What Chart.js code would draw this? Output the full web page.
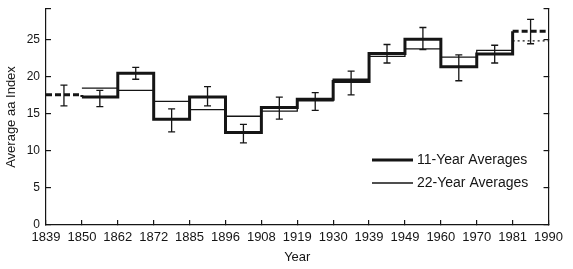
<!DOCTYPE html>
<html>
<head>
<meta charset="utf-8">
<script src="https://cdn.jsdelivr.net/npm/chart.js@4.4.1/dist/chart.umd.min.js"></script>
<style>
html, body { margin: 0; padding: 0; background: #fff; }
</style>
</head>
<body>
<canvas id="chart" width="573" height="269"></canvas>
<script>
// cycle boundaries (x axis is one step per cycle, evenly spaced)
const years = ['1839', '1850', '1862', '1872', '1885', '1896', '1908', '1919', '1930', '1939', '1949', '1960', '1970', '1981', '1990'];
// one value per cycle
const avg11 = [17.6, 17.3, 20.5, 14.3, 17.3, 12.5, 15.9, 17.0, 19.4, 23.2, 25.1, 21.4, 23.1, 26.2];
const avg22 = [null, 18.5, 18.2, 16.7, 15.6, 14.7, 15.4, 16.8, 19.7, 22.8, 23.8, 22.7, 23.6, 24.9];
const errLow = [16.1, 16.0, 19.7, 12.6, 16.1, 11.1, 14.3, 15.5, 17.6, 21.9, 23.7, 19.5, 21.9, 24.5];
const errHigh = [18.9, 18.2, 21.3, 15.7, 18.7, 13.6, 17.3, 17.9, 20.8, 24.4, 26.7, 23.0, 24.3, 27.8];
const yTicks = [0, 5, 10, 15, 20, 25, 29.2];
const legendLabels = ['11-Year Averages', '22-Year Averages'];

const ink = '#151515';
const font = 'Liberation Sans, Arial, Helvetica, sans-serif';

function steps(values) {
	const pts = [];
	values.forEach((v, i) => {
		if (v !== null) pts.push({ x: i, y: v });
	});
	pts.push({ x: values.length, y: values[values.length - 1] });
	return pts;
}

const errorBars = {
	id: 'errorBars',
	afterDatasetsDraw(chart) {
		const { ctx, scales: { x, y } } = chart;
		ctx.save();
		ctx.strokeStyle = ink;
		ctx.lineWidth = 1.3;
		errLow.forEach((lo, i) => {
			const px = x.getPixelForValue(i + 0.5);
			const top = y.getPixelForValue(errHigh[i]);
			const bot = y.getPixelForValue(lo);
			ctx.beginPath();
			ctx.moveTo(px, top); ctx.lineTo(px, bot);
			ctx.moveTo(px - 3.5, top); ctx.lineTo(px + 3.5, top);
			ctx.moveTo(px - 3.5, bot); ctx.lineTo(px + 3.5, bot);
			ctx.stroke();
		});
		ctx.restore();
	}
};

const legendBox = {
	id: 'legendBox',
	afterDraw(chart) {
		const ctx = chart.ctx;
		const rows = [160, 183];
		ctx.save();
		ctx.strokeStyle = ink;
		ctx.fillStyle = ink;
		ctx.font = '14px ' + font;
		ctx.textBaseline = 'middle';
		legendLabels.forEach((label, i) => {
			ctx.lineWidth = i === 0 ? 3 : 1.3;
			ctx.beginPath();
			ctx.moveTo(372, rows[i]);
			ctx.lineTo(413, rows[i]);
			ctx.stroke();
			ctx.fillText(label, 417, rows[i]);
		});
		ctx.restore();
	}
};

new Chart(document.getElementById('chart'), {
	type: 'line',
	data: {
		datasets: [{
			label: legendLabels[0],
			data: steps(avg11),
			stepped: true,
			borderColor: ink,
			borderWidth: 3,
			pointRadius: 0,
			segment: {
				borderDash: ctx => (ctx.p0.parsed.x === 0 || ctx.p0.parsed.x === 13) ? [6, 3] : undefined
			}
		}, {
			label: legendLabels[1],
			data: steps(avg22),
			stepped: true,
			borderColor: ink,
			borderWidth: 1.3,
			pointRadius: 0,
			segment: {
				borderDash: ctx => ctx.p0.parsed.x === 13 ? [2, 3] : undefined
			}
		}]
	},
	options: {
		responsive: false,
		animation: false,
		layout: {
			padding: { left: 0, top: 9, right: 20, bottom: 0 }
		},
		scales: {
			x: {
				type: 'linear',
				min: 0,
				max: years.length - 1,
				afterBuildTicks: scale => { scale.ticks = years.map((y, i) => ({ value: i })); },
				afterFit: scale => { scale.height = 44; },
				border: { display: true, color: ink, width: 1.2 },
				grid: { drawOnChartArea: false, drawTicks: true, tickLength: -5, color: ink, lineWidth: 1.2 },
				ticks: {
					padding: 10,
					color: ink,
					maxRotation: 0,
					autoSkip: false,
					font: { size: 13, family: font },
					callback: value => years[value]
				},
				title: {
					display: true,
					text: 'Year',
					color: ink,
					font: { size: 13, family: font },
					padding: { top: 0, bottom: 4 }
				}
			},
			y: {
				min: 0,
				max: 29.2,
				afterBuildTicks: scale => { scale.ticks = yTicks.map(v => ({ value: v })); },
				afterFit: scale => {
					scale.width = 46;
					scale.paddingTop = 0;
					scale.paddingBottom = 0;
				},
				border: { display: true, color: ink, width: 1.2 },
				grid: { drawOnChartArea: false, drawTicks: true, tickLength: -5, color: ink, lineWidth: 1.2 },
				ticks: {
					padding: 11,
					color: ink,
					font: { size: 12, family: font },
					callback: value => value % 5 === 0 ? value : ''
				},
				title: {
					display: true,
					text: 'Average aa Index',
					color: ink,
					font: { size: 13, family: font },
					padding: { top: 4, bottom: 0 }
				}
			},
			y2: {
				position: 'right',
				min: 0,
				max: 29.2,
				afterBuildTicks: scale => { scale.ticks = yTicks.map(v => ({ value: v })); },
				afterFit: scale => {
					scale.width = 0;
					scale.paddingTop = 0;
					scale.paddingBottom = 0;
				},
				border: { display: true, color: ink, width: 1.2 },
				grid: { drawOnChartArea: false, drawTicks: true, tickLength: -5, color: ink, lineWidth: 1.2 },
				ticks: { display: false }
			}
		},
		plugins: {
			legend: { display: false },
			tooltip: { enabled: false }
		}
	},
	plugins: [errorBars, legendBox]
});
</script>
</body>
</html>
